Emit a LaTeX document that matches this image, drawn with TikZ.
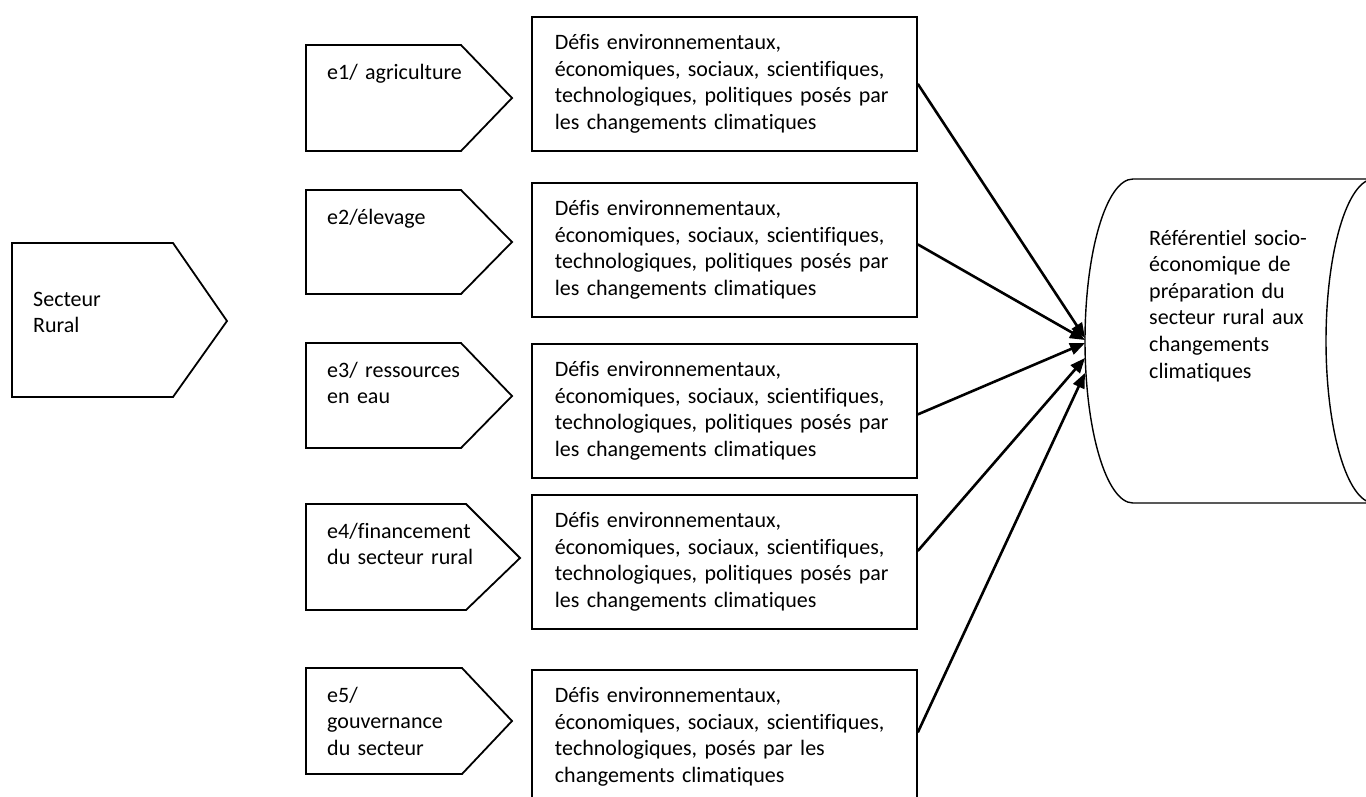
\documentclass[tikz,border=0pt]{standalone}
\usepackage{fontspec}
\setmainfont{Carlito}[Ligatures=NoCommon]
\usetikzlibrary{positioning, arrows.meta}

\begin{document}
\begin{tikzpicture}[x=1pt, y=-1pt,
  font=\fontsize{22}{26.6}\selectfont,
  forme/.style={line width=1.8pt, line join=miter},
  etiq/.style={anchor=base west, inner sep=0pt, text width=170pt, align=left},
  defi/.style={draw, line width=1.8pt, anchor=north west, minimum width=385pt,
               minimum height=134pt, inner xsep=23pt, text width=339pt, align=left},
  cyl/.style={line width=1.4pt},
  lien/.style={line width=2.6pt, -{Triangle[length=15pt,width=12pt]}}]
\useasboundingbox (0,0) rectangle (1366,796);
%
\draw[forme] (12,243) -- (173,243) -- (227,321) -- (173,397) -- (12,397) -- cycle;
\node[etiq] (rural) at (33,306) {Secteur\\Rural};
%
\draw[forme] (306,45) -- (461,45) -- (512,98) -- (461,151) -- (306,151) -- cycle;
\draw[forme] (306,190) -- (461,190) -- (512,242) -- (461,294) -- (306,294) -- cycle;
\draw[forme] (306,343) -- (461,343) -- (512,396) -- (461,448) -- (306,448) -- cycle;
\draw[forme] (306,504) -- (466,504) -- (520,558) -- (466,610) -- (306,610) -- cycle;
\draw[forme] (306,668) -- (462,668) -- (512,721) -- (462,774) -- (306,774) -- cycle;
\node[etiq] (e1) at (327,79) {e1/ agriculture};
\node[etiq] (e2) at (327,224) {e2/élevage};
\node[etiq] (e3) at (327,377) {e3/ ressources\\en eau};
\node[etiq] (e4) at (327,538) {e4/financement\\du secteur rural};
\node[etiq] (e5) at (327,702) {e5/\\gouvernance\\du secteur};
%
\node[defi] (d1) at (531,16) {Défis environnementaux,\\économiques, sociaux, scientifiques,\\technologiques, politiques posés par\\les changements climatiques};
\node[defi] (d2) at (531,182) {Défis environnementaux,\\économiques, sociaux, scientifiques,\\technologiques, politiques posés par\\les changements climatiques};
\node[defi] (d3) at (531,343) {Défis environnementaux,\\économiques, sociaux, scientifiques,\\technologiques, politiques posés par\\les changements climatiques};
\node[defi] (d4) at (531,494) {Défis environnementaux,\\économiques, sociaux, scientifiques,\\technologiques, politiques posés par\\les changements climatiques};
\node[defi] (d5) at (531,669) {Défis environnementaux,\\économiques, sociaux, scientifiques,\\technologiques, posés par les\\changements climatiques};
%
% le cylindre
\draw[cyl] (1133,179) -- (1374,179)
  .. controls (1400.5,179) and (1422,251.6) .. (1422,341)
  .. controls (1422,430.4) and (1400.5,503) .. (1374,503) -- (1133,503)
  .. controls (1106.5,503) and (1085,430.4) .. (1085,341)
  .. controls (1085,251.6) and (1106.5,179) .. (1133,179) -- cycle;
\draw[cyl] (1374,179) .. controls (1347.5,179) and (1326,251.6) .. (1326,341)
  .. controls (1326,430.4) and (1347.5,503) .. (1374,503);
\coordinate (ref) at (1085,341);
\node[etiq] (reftxt) at (1149,245) {Référentiel socio-\\économique de\\préparation du\\secteur rural aux\\changements\\climatiques};
%
\draw[lien] (d1.east) -- ([yshift=3pt]ref);
\draw[lien] ([yshift=5.5pt]d2.east) -- ([yshift=1pt]ref);
\draw[lien] ([yshift=-3.5pt]d3.east) -- ([yshift=-2pt]ref);
\draw[lien] ([yshift=11pt]d4.east) -- ([yshift=-17pt]ref);
\draw[lien] ([yshift=4.5pt]d5.east) -- ([yshift=-32pt]ref);
%
\end{tikzpicture}
\end{document}
